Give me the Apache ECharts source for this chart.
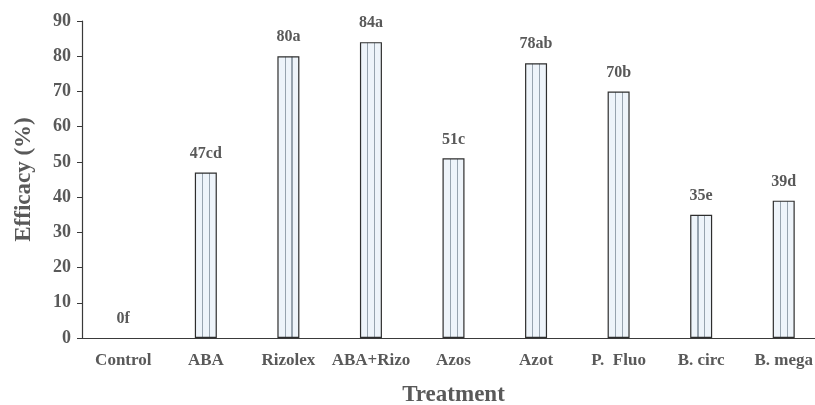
<!DOCTYPE html>
<html>
<head>
<meta charset="utf-8">
<script src="https://cdn.jsdelivr.net/npm/echarts@6/dist/echarts.min.js"></script>
<style>
  html, body { margin: 0; padding: 0; background: #fff; }
  #chart { width: 815px; height: 405px; }
</style>
</head>
<body>
<div id="chart"></div>
<script>
// Treatments and their efficacy with significance letters
const treatments = ['Control', 'ABA', 'Rizolex', 'ABA+Rizo', 'Azos', 'Azot', 'P.  Fluo', 'B. circ', 'B. mega'];
const efficacy = [0, 47, 80, 84, 51, 78, 70, 35, 39];
const groups = ['f', 'cd', 'a', 'a', 'c', 'ab', 'b', 'e', 'd'];
const yTicks = [0, 10, 20, 30, 40, 50, 60, 70, 80, 90];

const textColor = '#595959';
const fontFamily = '"Liberation Serif", "Times New Roman", serif';

// Pale fill with two thin vertical stripes, relative to each bar
const fill = '#eef4fa';
const stripe = '#97a3ae';
const stripedFill = {
  type: 'linear', x: 0, y: 0, x2: 1, y2: 0,
  colorStops: [
    { offset: 0, color: fill }, { offset: 0.33, color: fill },
    { offset: 0.33, color: stripe }, { offset: 0.38, color: stripe },
    { offset: 0.38, color: fill }, { offset: 0.64, color: fill },
    { offset: 0.64, color: stripe }, { offset: 0.69, color: stripe },
    { offset: 0.69, color: fill }, { offset: 1, color: fill }
  ]
};

// A zero-height bar shows no outline
const barData = efficacy.map(v => (v === 0 ? { value: v, itemStyle: { borderWidth: 0 } } : v));

const chart = echarts.init(document.getElementById('chart'), null, { renderer: 'canvas' });
chart.setOption({
  animation: false,
  backgroundColor: '#fff',
  grid: { left: 82, top: 21, width: 743, height: 317, containLabel: false, outerBoundsMode: 'none' },
  xAxis: {
    type: 'category',
    data: treatments,
    name: 'Treatment',
    nameLocation: 'middle',
    nameGap: 46,
    nameTextStyle: { color: textColor, fontFamily, fontWeight: 'bold', fontSize: 23 },
    axisLine: { lineStyle: { color: '#3a3a3a', width: 1.2 } },
    axisTick: { show: false },
    axisLabel: { color: textColor, fontFamily, fontWeight: 'bold', fontSize: 17, margin: 14, interval: 0 }
  },
  yAxis: {
    type: 'value',
    min: yTicks[0],
    max: yTicks[yTicks.length - 1],
    interval: 10,
    name: 'Efficacy (%)',
    nameLocation: 'middle',
    nameGap: 46,
    nameTextStyle: { color: textColor, fontFamily, fontWeight: 'bold', fontSize: 23 },
    axisLine: { show: true, lineStyle: { color: '#3a3a3a', width: 1.2 } },
    axisTick: { show: true, inside: false, length: 5, lineStyle: { color: '#3a3a3a' } },
    splitLine: { show: false },
    axisLabel: { color: textColor, fontFamily, fontWeight: 'bold', fontSize: 18, margin: 11 }
  },
  series: [{
    type: 'bar',
    data: barData,
    barWidth: 22,
    itemStyle: { color: stripedFill, borderColor: '#2e2e2e', borderWidth: 1.2 },
    label: {
      show: true,
      position: 'top',
      distance: 11,
      color: textColor,
      fontFamily,
      fontWeight: 'bold',
      fontSize: 16,
      formatter: p => p.value + groups[p.dataIndex]
    }
  }]
});
</script>
</body>
</html>
